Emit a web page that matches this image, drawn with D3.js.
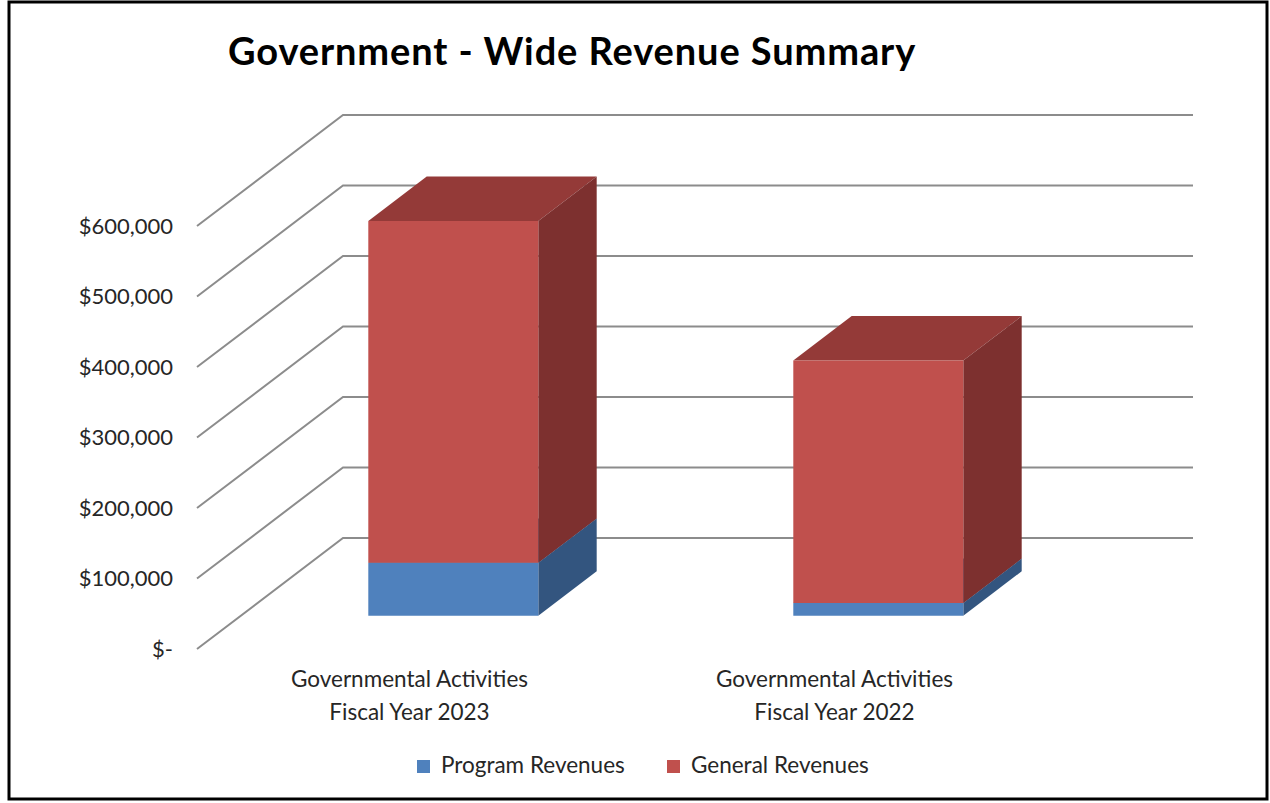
<!DOCTYPE html>
<html>
<head>
<meta charset="utf-8">
<script src="https://cdn.jsdelivr.net/npm/d3@7"></script>
<style>
  html, body { margin: 0; padding: 0; background: #fff; }
  svg text { font-family: Lato, "Open Sans", sans-serif; fill: #262626; }
</style>
</head>
<body>
<div class="svg-chart"></div>
<script>
// chart values
const categories = ["Governmental Activities\nFiscal Year 2023", "Governmental Activities\nFiscal Year 2022"];
const seriesNames = ["Program Revenues", "General Revenues"];
const programRevenues = [75000, 18000];
const generalRevenues = [485000, 344000];
const yTicks = [0, 100000, 200000, 300000, 400000, 500000, 600000];
const seriesColors = {
  "Program Revenues": { front: "#4F81BD", side: "#33557F", top: "#3E6796" },
  "General Revenues": { front: "#C0504D", side: "#7D302F", top: "#943A38" }
};

const width = 1270, height = 803;
// oblique depth of the whole floor, in pixels
const depth = { dx: 146, dy: -111 };
const barDepth = [0.3, 0.7]; // bars sit between these fractions of floor depth

const svg = d3.select('.svg-chart').append('svg')
    .attr('width', width)
    .attr('height', height)
    .attr('viewBox', '0 0 ' + width + ' ' + height);

svg.append('rect')
    .attr('x', 9).attr('y', 2)
    .attr('width', 1258).attr('height', 797)
    .attr('fill', '#fff')
    .attr('stroke', '#000')
    .attr('stroke-width', 3);

// front plane scales
let x = d3.scaleBand()
    .domain(categories)
    .range([197, 1047])
    .paddingInner(0.6)
    .paddingOuter(0.3);

let xCat = d3.scaleBand()
    .domain(categories)
    .range([197, 1047]);

let y = d3.scaleLinear()
    .domain([0, 600000])
    .range([649, 226]);

const proj = (px, v, d) => [px + d * depth.dx, y(v) + d * depth.dy];

// gridlines: side wall diagonal + back wall horizontal
const grid = svg.append('g')
    .attr('fill', 'none')
    .attr('stroke', '#8C8C8C')
    .attr('stroke-width', 2);

yTicks.forEach(t => {
    let a = proj(197, t, 0);
    let b = proj(197, t, 1);
    let c = proj(1047, t, 1);
    grid.append('path')
        .attr('d', d3.line()([a, b, c]));
});

// y tick labels
svg.append('g')
    .selectAll('text')
    .data(yTicks)
    .enter()
    .append('text')
    .attr('x', 173)
    .attr('y', d => y(d))
    .attr('dy', '0.35em')
    .attr('text-anchor', 'end')
    .style('font-size', '22px')
    .text(d => d === 0 ? '$-' : '$' + d3.format(',')(d));

// stacked 3d bars
const table = categories.map((c, i) => ({
    cat: c,
    "Program Revenues": programRevenues[i],
    "General Revenues": generalRevenues[i]
}));

const stacked = d3.stack().keys(seriesNames)(table);

const poly = pts => 'M' + pts.map(p => p.join(',')).join('L') + 'Z';

const bars = svg.append('g');

categories.forEach((c, i) => {
    const x0 = x(c), x1 = x(c) + x.bandwidth();
    const d0 = barDepth[0], d1 = barDepth[1];
    stacked.forEach(layer => {
        const v0 = layer[i][0], v1 = layer[i][1];
        const col = seriesColors[layer.key];

        // top face
        bars.append('path')
            .attr('d', poly([proj(x0, v1, d0), proj(x1, v1, d0), proj(x1, v1, d1), proj(x0, v1, d1)]))
            .attr('fill', col.top);
        // right side face
        bars.append('path')
            .attr('d', poly([proj(x1, v0, d0), proj(x1, v0, d1), proj(x1, v1, d1), proj(x1, v1, d0)]))
            .attr('fill', col.side);
        // front face
        bars.append('path')
            .attr('d', poly([proj(x0, v0, d0), proj(x1, v0, d0), proj(x1, v1, d0), proj(x0, v1, d0)]))
            .attr('fill', col.front);
    });
});

// category labels
const catLabels = svg.append('g')
    .selectAll('text')
    .data(categories)
    .enter()
    .append('text')
    .attr('x', d => xCat(d) + xCat.bandwidth() / 2)
    .attr('y', 687)
    .attr('text-anchor', 'middle')
    .style('font-size', '22.5px');

catLabels.selectAll('tspan')
    .data(d => d.split('\n'))
    .enter()
    .append('tspan')
    .attr('x', function () { return d3.select(this.parentNode).attr('x'); })
    .attr('dy', (d, i) => i === 0 ? 0 : 33)
    .text(d => d);

// title
svg.append('text')
    .attr('x', 228)
    .attr('y', 65)
    .style('font-size', '38px')
    .style('font-weight', 'bold')
    .style('letter-spacing', '0.9px')
    .style('fill', '#000')
    .text('Government - Wide Revenue Summary');

// legend
const legendX = [417, 667];
const legend = svg.append('g')
    .selectAll('g')
    .data(seriesNames)
    .enter()
    .append('g')
    .attr('transform', (d, i) => 'translate(' + legendX[i] + ',760)');

legend.append('rect')
    .attr('width', 13)
    .attr('height', 13)
    .attr('fill', d => seriesColors[d].front);

legend.append('text')
    .attr('x', 24)
    .attr('y', 13)
    .style('font-size', '22.5px')
    .text(d => d);
</script>
</body>
</html>
